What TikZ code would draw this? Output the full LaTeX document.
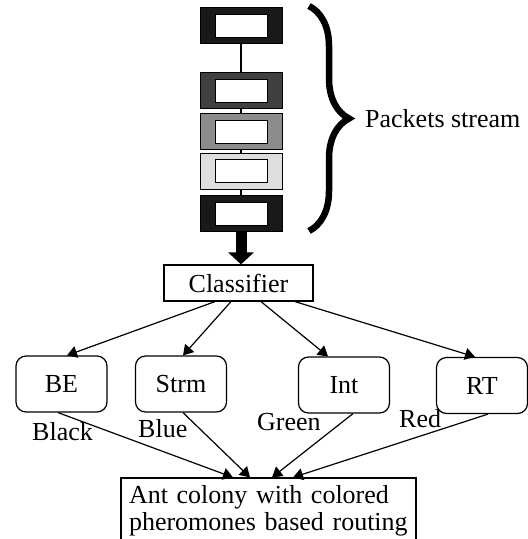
\documentclass[tikz,border=0pt]{standalone}
\usepackage{fontspec}
\setmainfont{Liberation Serif}
\usetikzlibrary{arrows.meta,positioning,decorations.pathreplacing}
\tikzset{
  pkt/.style={
    draw, line width=1pt, inner sep=0pt,
    minimum width=82pt, minimum height=36pt
  },
  pktin/.style={
    draw, line width=1pt, fill=white, inner sep=0pt,
    minimum width=52pt, minimum height=23pt
  },
  cls/.style={
    draw, line width=1.2pt,
    minimum width=149pt, minimum height=36pt
  },
  cat/.style={
    draw, line width=1.2pt, rounded corners=10pt,
    minimum width=91pt, minimum height=56pt
  },
  sink/.style={
    draw, line width=1.2pt, text width=279pt, inner xsep=8pt,
    minimum height=66pt, align=left
  },
  tag/.style={inner sep=0pt, anchor=base west},
  arrow/.style={-{Triangle[length=10pt, width=12pt]}, line width=1.2pt},
  fatarrow/.style={-{Triangle[length=12pt, width=25pt]}, line width=11pt},
  link/.style={line width=1.2pt},
  curly/.style={decorate, decoration={brace, amplitude=40pt}, line width=6.5pt}
}

\begin{document}
\begin{tikzpicture}[x=1pt, y=-1pt, font=\fontsize{26}{27}\selectfont]
\useasboundingbox (0,0) rectangle (528,539);

% ---------- Packets stream ----------
\node[pkt, fill=black!90] (pk1) at (241,25.5) {};
\node[pktin] (pk1w) at (pk1) {};
\node[pkt, fill=black!75] (pk2) at (241,90.5) {};
\node[pktin] (pk2w) at (pk2) {};
\node[pkt, fill=black!45] (pk3) at (241,131.5) {};
\node[pktin] (pk3w) at (pk3) {};
\node[pkt, fill=black!13] (pk4) at (241,171) {};
\node[pktin] (pk4w) at (pk4) {};
\node[pkt, fill=black!90] (pk5) at (241,213.5) {};
\node[pktin] (pk5w) at (pk5) {};

\draw[link] (pk1.south) -- (pk2.north);
\draw[link] (pk2.south) -- (pk3.north);
\draw[link] (pk3.south) -- (pk4.north);
\draw[link] (pk4.south) -- (pk5.north);

\coordinate (btop) at (309,6);
\coordinate (bbot) at (309,231);
\draw[curly] (btop) -- (bbot);
\node[tag] (lps) at (365,127) {Packets stream};

% ---------- Classifier ----------
\node[cls] (cls) at (238.5,283) {Classifier};
\draw[fatarrow] (pk5.south) -- (pk5.south |- cls.north);

% ---------- Traffic classes ----------
\node[cat] (be)   at (61.5,384) {BE};
\node[cat] (strm) at (181,384)  {Strm};
\node[cat] (int)  at (344,385)  {Int};
\node[cat] (rt)   at (482,385.5) {RT};

\draw[arrow] ([xshift=-23.5pt]cls.south) -- ([xshift=5.5pt]be.north);
\draw[arrow] ([xshift=-7.5pt]cls.south)  -- ([xshift=2pt]strm.north);
\draw[arrow] ([xshift=22.5pt]cls.south)  -- ([xshift=-16pt]int.north);
\draw[arrow] ([xshift=56.5pt]cls.south)  -- ([xshift=-7pt]rt.north);

% ---------- Routing ----------
\node[sink] (ant) at (268.5,511) {Ant colony with colored\\pheromones based routing};

\draw[arrow] ([xshift=-3.5pt]be.south) -- ([xshift=-35.5pt]ant.north);
\draw[arrow] ([xshift=2pt]strm.south)  -- ([xshift=-18.5pt]ant.north);
\draw[arrow] ([xshift=9pt]int.south)   -- ([xshift=3.5pt]ant.north);
\draw[arrow] ([xshift=6pt]rt.south)    -- ([xshift=24.5pt]ant.north);

\node[tag] (lblk) at (32,440)  {Black};
\node[tag] (lblu) at (138,437) {Blue};
\node[tag] (lgrn) at (257,430) {Green};
\node[tag] (lred) at (399,427) {Red};

\end{tikzpicture}
\end{document}
